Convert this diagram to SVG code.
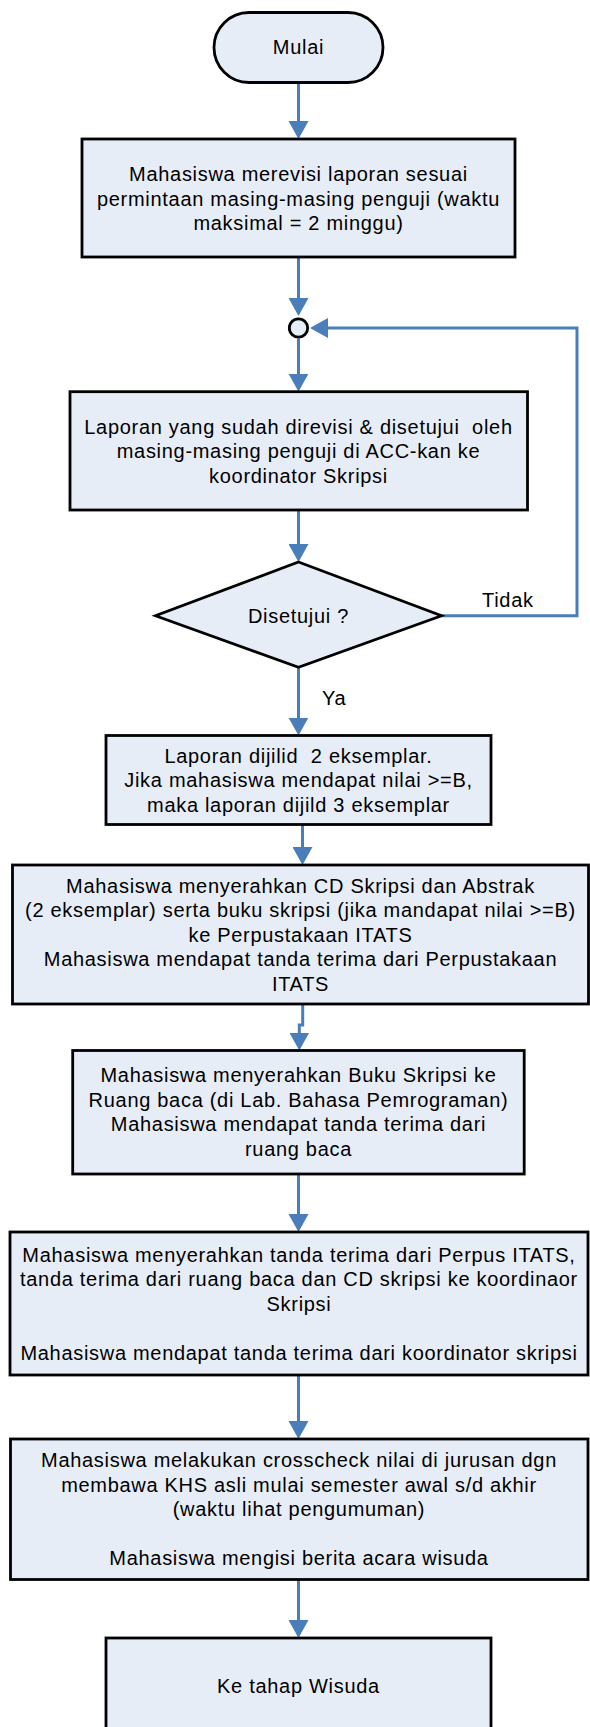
<svg xmlns="http://www.w3.org/2000/svg" width="590" height="1727" viewBox="0 0 590 1727">
<style>
.node{fill:#E7EDF7;stroke:#000;stroke-width:2.8}
.t{font-family:"Liberation Sans",Arial,sans-serif;font-size:20px;letter-spacing:0.7px;fill:#000;text-anchor:middle}
.l{font-family:"Liberation Sans",Arial,sans-serif;font-size:20px;letter-spacing:0.7px;fill:#000}
.c{fill:none;stroke:#4A7EBB;stroke-width:3;marker-end:url(#ah)}
</style>
<defs>
<marker id="ah" markerUnits="userSpaceOnUse" markerWidth="19" markerHeight="20" refX="1" refY="10" orient="auto" viewBox="0 0 19 20">
<path d="M0,0 L18,10 L0,20 Z" fill="#4A7EBB"/>
</marker>
</defs>
<rect width="590" height="1727" fill="#fff"/>
<g id="connectors">
<path class="c" d="M298.5,82.5 V122"/>
<path class="c" d="M298.5,257 V299"/>
<path class="c" d="M298.5,338.5 V374.7"/>
<path class="c" d="M298.5,510 V545"/>
<path class="c" d="M441.5,615.7 H577 V328 H327"/>
<path class="c" d="M298.5,667.3 V718.5"/>
<path class="c" d="M302.5,824.5 V848"/>
<path class="c" d="M302.7,1004 V1025 H299.3 V1033.5"/>
<path class="c" d="M298.5,1174 V1215"/>
<path class="c" d="M298.5,1375 V1422"/>
<path class="c" d="M298.5,1579.5 V1621"/>
</g>
<g id="mulai">
<rect class="node" x="214" y="12.5" width="169" height="70" rx="35" ry="35"/>
<text class="t" x="298.5" y="54">Mulai</text>
</g>
<g id="revisi">
<rect class="node" x="82" y="139" width="433" height="118"/>
<text class="t" x="298.5" y="181">Mahasiswa merevisi laporan sesuai</text>
<text class="t" x="298.5" y="205.5">permintaan masing-masing penguji (waktu</text>
<text class="t" x="298.5" y="230">maksimal = 2 minggu)</text>
</g>
<g id="junction">
<circle class="node" cx="298.5" cy="328" r="9.2"/>
</g>
<g id="acc">
<rect class="node" x="70" y="391.7" width="457.5" height="118.3"/>
<text class="t" x="298.5" y="433.5" xml:space="preserve">Laporan yang sudah direvisi &amp; disetujui  oleh</text>
<text class="t" x="298.5" y="458">masing-masing penguji di ACC-kan ke</text>
<text class="t" x="298.5" y="482.5">koordinator Skripsi</text>
</g>
<g id="disetujui">
<polygon class="node" points="298.5,562 441.5,615.7 298.5,667.3 155.5,615.7"/>
<text class="t" x="298.5" y="623">Disetujui ?</text>
<text class="l" x="482" y="607">Tidak</text>
<text class="l" x="322" y="705">Ya</text>
</g>
<g id="jilid">
<rect class="node" x="106" y="735.5" width="385" height="89"/>
<text class="t" x="298.5" y="762.5" xml:space="preserve">Laporan dijilid  2 eksemplar.</text>
<text class="t" x="298.5" y="787">Jika mahasiswa mendapat nilai &gt;=B,</text>
<text class="t" x="298.5" y="811.5">maka laporan dijild 3 eksemplar</text>
</g>
<g id="perpustakaan">
<rect class="node" x="12.5" y="865" width="576" height="139"/>
<text class="t" x="300.5" y="892.5">Mahasiswa menyerahkan CD Skripsi dan Abstrak</text>
<text class="t" x="300.5" y="917">(2 eksemplar) serta buku skripsi (jika mandapat nilai &gt;=B)</text>
<text class="t" x="300.5" y="941.5">ke Perpustakaan ITATS</text>
<text class="t" x="300.5" y="966">Mahasiswa mendapat tanda terima dari Perpustakaan</text>
<text class="t" x="300.5" y="990.5">ITATS</text>
</g>
<g id="ruangbaca">
<rect class="node" x="72.7" y="1050.5" width="451.5" height="123.5"/>
<text class="t" x="298.5" y="1082">Mahasiswa menyerahkan Buku Skripsi ke</text>
<text class="t" x="298.5" y="1106.5">Ruang baca (di Lab. Bahasa Pemrograman)</text>
<text class="t" x="298.5" y="1131">Mahasiswa mendapat tanda terima dari</text>
<text class="t" x="298.5" y="1155.5">ruang baca</text>
</g>
<g id="koordinator">
<rect class="node" x="10" y="1232" width="578" height="143"/>
<text class="t" x="299" y="1261.5">Mahasiswa menyerahkan tanda terima dari Perpus ITATS,</text>
<text class="t" x="299" y="1286">tanda terima dari ruang baca dan CD skripsi ke koordinaor</text>
<text class="t" x="299" y="1310.5">Skripsi</text>
<text class="t" x="299" y="1359.5">Mahasiswa mendapat tanda terima dari koordinator skripsi</text>
</g>
<g id="crosscheck">
<rect class="node" x="10.5" y="1439" width="577.5" height="140.5"/>
<text class="t" x="299" y="1467">Mahasiswa melakukan crosscheck nilai di jurusan dgn</text>
<text class="t" x="299" y="1491.5">membawa KHS asli mulai semester awal s/d akhir</text>
<text class="t" x="299" y="1516">(waktu lihat pengumuman)</text>
<text class="t" x="299" y="1565">Mahasiswa mengisi berita acara wisuda</text>
</g>
<g id="wisuda">
<rect class="node" x="106" y="1638" width="385" height="112"/>
<text class="t" x="298.5" y="1693">Ke tahap Wisuda</text>
</g>
</svg>
